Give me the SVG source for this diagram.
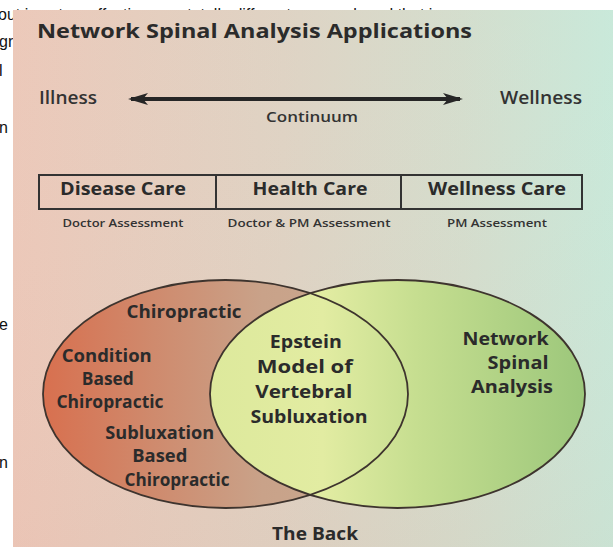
<svg xmlns="http://www.w3.org/2000/svg" width="613" height="547" viewBox="0 0 613 547">
<defs>
<linearGradient id="bg" x1="0" y1="0" x2="1" y2="0">
<stop offset="0" stop-color="#ebc6b6"/>
<stop offset="0.45" stop-color="#ddd1c1"/>
<stop offset="0.75" stop-color="#d2dccb"/>
<stop offset="1" stop-color="#c6e8d8"/>
</linearGradient>
<linearGradient id="bgv" x1="0" y1="0" x2="0" y2="1">
<stop offset="0" stop-color="#ffffff" stop-opacity="0.05"/>
<stop offset="1" stop-color="#e8b8b0" stop-opacity="0.12"/>
</linearGradient>
<linearGradient id="leftFill" x1="43" y1="0" x2="408" y2="0" gradientUnits="userSpaceOnUse">
<stop offset="0" stop-color="#d8704f"/>
<stop offset="0.3" stop-color="#cf8a6d"/>
<stop offset="0.6" stop-color="#c9a289"/>
<stop offset="1" stop-color="#c7ab92"/>
</linearGradient>
<linearGradient id="rightFill" x1="210" y1="0" x2="585" y2="0" gradientUnits="userSpaceOnUse">
<stop offset="0" stop-color="#dde99c"/>
<stop offset="0.3" stop-color="#e2eca2"/>
<stop offset="0.55" stop-color="#c6de90"/>
<stop offset="1" stop-color="#9cc77b"/>
</linearGradient>
<marker id="ah" viewBox="0 0 20 12" refX="17" refY="6" markerWidth="20" markerHeight="12" markerUnits="userSpaceOnUse" orient="auto-start-reverse">
<path d="M20,6 L0,0 L5,6 L0,12 Z" fill="#262626"/>
</marker>
<style>
.pg{font-family:"Liberation Sans",Arial,sans-serif;font-size:16px;fill:#111}
.b{font-family:"Open Sans","DejaVu Sans",sans-serif;font-weight:700;fill:#2b2b2b}
.m{font-family:"Open Sans","DejaVu Sans",sans-serif;font-weight:600;fill:#333}
.ell{fill:none;stroke:#3e342e;stroke-width:1.8}
</style>
</defs>

<g id="page-text">
<text class="pg" x="-2" y="20">out is not as effective as a totally different approach and that is</text>
<text class="pg" x="-1" y="47">gr</text>
<text class="pg" x="-1" y="76">l</text>
<text class="pg" x="-1" y="133">n</text>
<text class="pg" x="-1" y="330">e</text>
<text class="pg" x="-1" y="468">n</text>
</g>

<g id="photo">
<rect x="13" y="10" width="600" height="537" fill="url(#bg)"/>
<rect x="13" y="10" width="600" height="537" fill="url(#bgv)"/>
</g>

<g id="title">
<text class="b" x="37" y="38" font-size="20" textLength="435" lengthAdjust="spacingAndGlyphs">Network Spinal Analysis Applications</text>
</g>

<g id="connectors">
<line x1="131" y1="99" x2="460" y2="99" stroke="#262626" stroke-width="4" marker-start="url(#ah)" marker-end="url(#ah)"/>
</g>

<g id="illness"><text class="m" x="39" y="104" font-size="18" textLength="58" lengthAdjust="spacingAndGlyphs">Illness</text></g>
<g id="wellness"><text class="m" x="500" y="104" font-size="18" textLength="82" lengthAdjust="spacingAndGlyphs">Wellness</text></g>
<g id="continuum"><text class="m" x="312" y="122" font-size="14" text-anchor="middle" textLength="92" lengthAdjust="spacingAndGlyphs">Continuum</text></g>

<g id="care-table">
<rect x="39" y="175" width="543" height="34" fill="none" stroke="#333" stroke-width="2"/>
<line x1="216" y1="175" x2="216" y2="209" stroke="#333" stroke-width="2"/>
<line x1="401" y1="175" x2="401" y2="209" stroke="#333" stroke-width="2"/>
</g>
<g id="disease-care">
<text class="b" x="123" y="195" font-size="18" text-anchor="middle" textLength="126" lengthAdjust="spacingAndGlyphs">Disease Care</text>
<text class="m" x="123" y="227" font-size="11" text-anchor="middle" textLength="121" lengthAdjust="spacingAndGlyphs">Doctor Assessment</text>
</g>
<g id="health-care">
<text class="b" x="310" y="195" font-size="18" text-anchor="middle" textLength="115" lengthAdjust="spacingAndGlyphs">Health Care</text>
<text class="m" x="309" y="227" font-size="11" text-anchor="middle" textLength="163" lengthAdjust="spacingAndGlyphs">Doctor &amp; PM Assessment</text>
</g>
<g id="wellness-care">
<text class="b" x="497" y="195" font-size="18" text-anchor="middle" textLength="138" lengthAdjust="spacingAndGlyphs">Wellness Care</text>
<text class="m" x="497" y="227" font-size="11" text-anchor="middle" textLength="100" lengthAdjust="spacingAndGlyphs">PM Assessment</text>
</g>

<g id="venn-fills">
<ellipse cx="225.5" cy="394" rx="182.5" ry="114" fill="url(#leftFill)"/>
<ellipse cx="397.5" cy="394" rx="187.5" ry="114" fill="url(#rightFill)"/>
</g>

<g id="chiropractic">
<ellipse class="ell" cx="225.5" cy="394" rx="182.5" ry="114"/>
<text class="b" x="184" y="318" font-size="17" text-anchor="middle" textLength="115" lengthAdjust="spacingAndGlyphs">Chiropractic</text>
</g>
<g id="network-spinal-analysis">
<ellipse class="ell" cx="397.5" cy="394" rx="187.5" ry="114"/>
<text class="b" font-size="17" text-anchor="end">
<tspan x="553" y="345" textLength="86" lengthAdjust="spacingAndGlyphs">Network</tspan>
<tspan x="553" y="369" textLength="61" lengthAdjust="spacingAndGlyphs">Spinal</tspan>
<tspan x="553" y="393" textLength="82" lengthAdjust="spacingAndGlyphs">Analysis</tspan>
</text>
</g>
<g id="condition-based">
<text class="b" font-size="17" text-anchor="middle">
<tspan x="109" y="362" textLength="90" lengthAdjust="spacingAndGlyphs">Condition</tspan>
<tspan x="110" y="385" textLength="52" lengthAdjust="spacingAndGlyphs">Based</tspan>
<tspan x="110" y="408" textLength="107" lengthAdjust="spacingAndGlyphs">Chiropractic</tspan>
</text>
</g>
<g id="subluxation-based">
<text class="b" font-size="17" text-anchor="middle">
<tspan x="162" y="439" textLength="109" lengthAdjust="spacingAndGlyphs">Subluxation</tspan>
<tspan x="162" y="462" textLength="55" lengthAdjust="spacingAndGlyphs">Based</tspan>
<tspan x="177" y="486" textLength="105" lengthAdjust="spacingAndGlyphs">Chiropractic</tspan>
</text>
</g>
<g id="epstein-model">
<text class="b" font-size="17" text-anchor="middle">
<tspan x="308" y="348" textLength="72" lengthAdjust="spacingAndGlyphs">Epstein</tspan>
<tspan x="307" y="373" textLength="96" lengthAdjust="spacingAndGlyphs">Model of</tspan>
<tspan x="306" y="398" textLength="97" lengthAdjust="spacingAndGlyphs">Vertebral</tspan>
<tspan x="309" y="423" textLength="117" lengthAdjust="spacingAndGlyphs">Subluxation</tspan>
</text>
</g>
<g id="the-back">
<text class="b" x="315" y="540" font-size="17" text-anchor="middle" textLength="86" lengthAdjust="spacingAndGlyphs">The Back</text>
</g>
</svg>
